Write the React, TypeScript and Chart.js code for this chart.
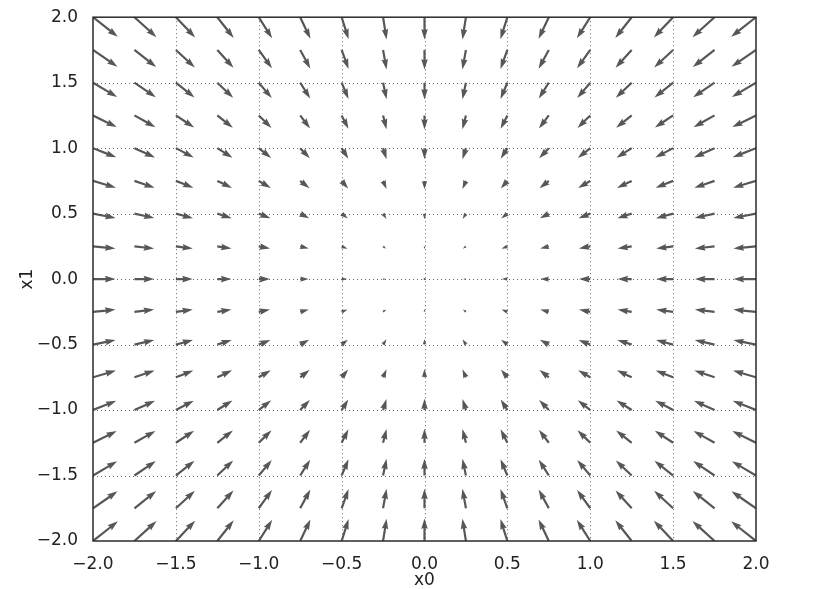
import React, { useEffect, useRef } from "react";
import { Chart, registerables } from "chart.js";

Chart.register(...registerables);

// Grid positions (x0 columns, x1 rows)
const x0Values = [-2.0, -1.75, -1.5, -1.25, -1.0, -0.75, -0.5, -0.25, 0.0, 0.25, 0.5, 0.75, 1.0, 1.25, 1.5, 1.75, 2.0];
const x1Values = [-2.0, -1.75, -1.5, -1.25, -1.0, -0.75, -0.5, -0.25, 0.0, 0.25, 0.5, 0.75, 1.0, 1.25, 1.5, 1.75, 2.0];
// Negative gradient components: u per x0 column, v per x1 row
const uValues = [4.0, 3.5, 3.0, 2.5, 2.0, 1.5, 1.0, 0.5, 0.0, -0.5, -1.0, -1.5, -2.0, -2.5, -3.0, -3.5, -4.0];
const vValues = [4.0, 3.5, 3.0, 2.5, 2.0, 1.5, 1.0, 0.5, 0.0, -0.5, -1.0, -1.5, -2.0, -2.5, -3.0, -3.5, -4.0];
const tickValues = [-2.0, -1.5, -1.0, -0.5, 0.0, 0.5, 1.0, 1.5, 2.0];

const FONT = "'DejaVu Sans', sans-serif";
const ARROW_COLOR = "#575757";
const PX_PER_UNIT = 5.6;

const fmt = (v: number | string) => Number(v).toFixed(1).replace("-", "\u2212");

function drawArrow(ctx: CanvasRenderingContext2D, x: number, y: number, theta: number, L: number) {
  const W = 1.1, HW = 3.3, HL = 10.5, HAL = 9.5;
  if (L < 2.1) {
    ctx.beginPath();
    ctx.arc(x, y, 1, 0, Math.PI * 2);
    ctx.fill();
    return;
  }
  let pts: number[][];
  if (L >= HL) {
    pts = [[0, -W], [L - HAL, -W], [L - HL, -HW], [L, 0], [L - HL, HW], [L - HAL, W], [0, W]];
  } else {
    const s = L / HL;
    pts = [[0, -W], [HL - HAL, -W], [0, -HW], [HL, 0], [0, HW], [HL - HAL, W], [0, W]].map(([a, b]) => [a * s, b * s]);
  }
  const c = Math.cos(theta), sn = Math.sin(theta);
  ctx.beginPath();
  pts.forEach(([a, b], i) => {
    const X = x + a * c - b * sn;
    const Y = y + a * sn + b * c;
    if (i === 0) ctx.moveTo(X, Y); else ctx.lineTo(X, Y);
  });
  ctx.closePath();
  ctx.fill();
}

const quiverPlugin = {
  id: "quiver",
  beforeDatasetsDraw(chart: any) {
    const { ctx, chartArea: a, scales } = chart;
    const xs = scales.x, ys = scales.y;
    ctx.save();
    ctx.strokeStyle = "#666";
    ctx.lineWidth = 1;
    ctx.setLineDash([1, 3]);
    tickValues.forEach((t) => {
      const px = Math.round(xs.getPixelForValue(t)) + 0.5;
      if (px > a.left + 1 && px < a.right - 1) {
        ctx.beginPath(); ctx.moveTo(px, a.top); ctx.lineTo(px, a.bottom); ctx.stroke();
      }
      const py = Math.round(ys.getPixelForValue(t)) + 0.5;
      if (py > a.top + 1 && py < a.bottom - 1) {
        ctx.beginPath(); ctx.moveTo(a.left, py); ctx.lineTo(a.right, py); ctx.stroke();
      }
    });
    ctx.restore();
  },
  afterDatasetsDraw(chart: any) {
    const { ctx, chartArea: a, scales } = chart;
    const xs = scales.x, ys = scales.y;
    const data = chart.data.datasets[0].data as any[];
    ctx.save();
    ctx.beginPath();
    ctx.rect(a.left, a.top, a.right - a.left, a.bottom - a.top);
    ctx.clip();
    ctx.fillStyle = ARROW_COLOR;
    data.forEach((d) => {
      const px = xs.getPixelForValue(d.x);
      const py = ys.getPixelForValue(d.y);
      const eps = 0.01;
      const dx = xs.getPixelForValue(d.x + d.u * eps) - px;
      const dy = ys.getPixelForValue(d.y + d.v * eps) - py;
      const mag = Math.hypot(d.u, d.v);
      const theta = Math.atan2(dy, dx);
      drawArrow(ctx, px, py, theta, mag * PX_PER_UNIT);
    });
    ctx.restore();
    ctx.save();
    ctx.strokeStyle = "#2b2b2b";
    ctx.lineWidth = 1.5;
    ctx.strokeRect(a.left, a.top, a.right - a.left, a.bottom - a.top);
    ctx.restore();
  },
};

export default function App() {
  const ref = useRef<HTMLCanvasElement | null>(null);
  useEffect(() => {
    if (!ref.current) return;
    const points: any[] = [];
    x1Values.forEach((y, j) => {
      x0Values.forEach((x, i) => {
        points.push({ x, y, u: uValues[i], v: vValues[j] });
      });
    });
    const tickFont = { family: FONT, size: 17 };
    const chart = new Chart(ref.current, {
      type: "scatter",
      data: {
        datasets: [{ data: points, pointRadius: 0, pointHoverRadius: 0, showLine: false }],
      },
      options: {
        animation: false,
        responsive: false,
        events: [],
        layout: { padding: { top: 17, right: 64, left: 0, bottom: 0 } },
        plugins: { legend: { display: false }, tooltip: { enabled: false } },
        scales: {
          x: {
            type: "linear",
            min: -2,
            max: 2,
            afterBuildTicks: (s: any) => { s.ticks = tickValues.map((v) => ({ value: v })); },
            afterFit: (s: any) => { s.height = 48; },
            grid: { display: false },
            border: { display: false },
            ticks: { font: tickFont, color: "#222", padding: 5, autoSkip: false, maxRotation: 0, callback: fmt },
            title: { display: true, text: "x0", font: { family: FONT, size: 17, lineHeight: 1 }, color: "#222", padding: { top: 0, bottom: 0 } },
          },
          y: {
            type: "linear",
            min: -2,
            max: 2,
            afterBuildTicks: (s: any) => { s.ticks = tickValues.map((v) => ({ value: v })); },
            afterFit: (s: any) => { s.width = 93; },
            grid: { display: false },
            border: { display: false },
            ticks: { font: tickFont, color: "#222", padding: 7, autoSkip: false, callback: fmt },
            title: { display: true, text: "x1", font: { family: FONT, size: 17, lineHeight: 1 }, color: "#222", padding: { top: 19, bottom: 0 } },
          },
        },
      },
      plugins: [quiverPlugin],
    } as any);
    return () => chart.destroy();
  }, []);
  return (
    <div style={{ position: "fixed", left: 0, top: 0, width: 820, height: 589, background: "#fff" }}>
      <canvas ref={ref} width={820} height={589} style={{ width: 820, height: 589, display: "block" }} />
    </div>
  );
}
